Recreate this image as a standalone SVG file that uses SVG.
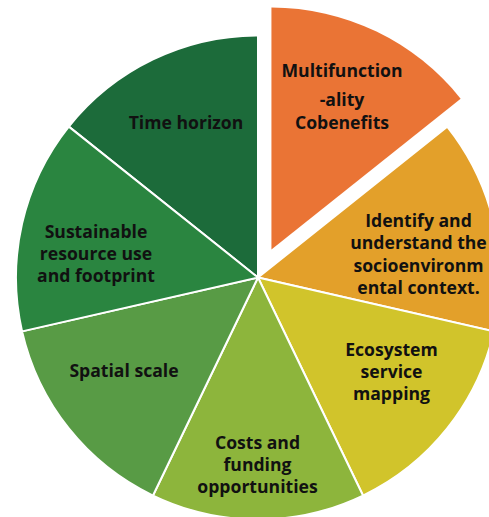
<svg xmlns="http://www.w3.org/2000/svg" width="489" height="517" viewBox="0 0 489 517">
<style>
.s{stroke:#ffffff;stroke-width:2;stroke-linejoin:round}
.t{font-family:"Open Sans","Noto Sans",sans-serif;font-weight:700;font-size:17.6px;fill:#111111;text-anchor:middle}
</style>
<rect width="489" height="517" fill="#ffffff"/>
<g id="time-horizon">
<path class="s" fill="#1c6b3a" d="M258,277.5 L68.8,126.62 A242,242 0 0 1 258,35.5 Z"/>
<text class="t" x="186" y="129">Time horizon</text>
</g>
<g id="multifunctionality">
<path fill="#ea7435" d="M271.45,249.57 L271.45,7.57 A242,242 0 0 1 460.65,98.69 Z"/>
<text class="t" x="342" y="77">Multifunction</text>
<text class="t" x="342" y="106">-ality</text>
<text class="t" x="342" y="129">Cobenefits</text>
</g>
<g id="identify">
<path class="s" fill="#e3a02a" d="M258,277.5 L447.2,126.62 A242,242 0 0 1 493.93,331.35 Z"/>
<text class="t" x="418.5" y="227">Identify and</text>
<text class="t" x="418.5" y="249">understand the</text>
<text class="t" x="418.5" y="271.5">socioenvironm</text>
<text class="t" x="418.5" y="294">ental context.</text>
</g>
<g id="ecosystem">
<path class="s" fill="#d1c42b" d="M258,277.5 L493.93,331.35 A242,242 0 0 1 363,495.53 Z"/>
<text class="t" x="391.5" y="356">Ecosystem</text>
<text class="t" x="391.5" y="378">service</text>
<text class="t" x="391.5" y="400">mapping</text>
</g>
<g id="costs">
<path class="s" fill="#8db53c" d="M258,277.5 L363,495.53 A242,242 0 0 1 153,495.53 Z"/>
<text class="t" x="257.5" y="449">Costs and</text>
<text class="t" x="257.5" y="471">funding</text>
<text class="t" x="257.5" y="493">opportunities</text>
</g>
<g id="spatial-scale">
<path class="s" fill="#589b45" d="M258,277.5 L153,495.53 A242,242 0 0 1 22.07,331.35 Z"/>
<text class="t" x="124" y="377">Spatial scale</text>
</g>
<g id="sustainable">
<path class="s" fill="#2a8540" d="M258,277.5 L22.07,331.35 A242,242 0 0 1 68.8,126.62 Z"/>
<text class="t" x="96" y="238">Sustainable</text>
<text class="t" x="96" y="260">resource use</text>
<text class="t" x="96" y="282">and footprint</text>
</g>
<g id="connectors"></g>
</svg>
